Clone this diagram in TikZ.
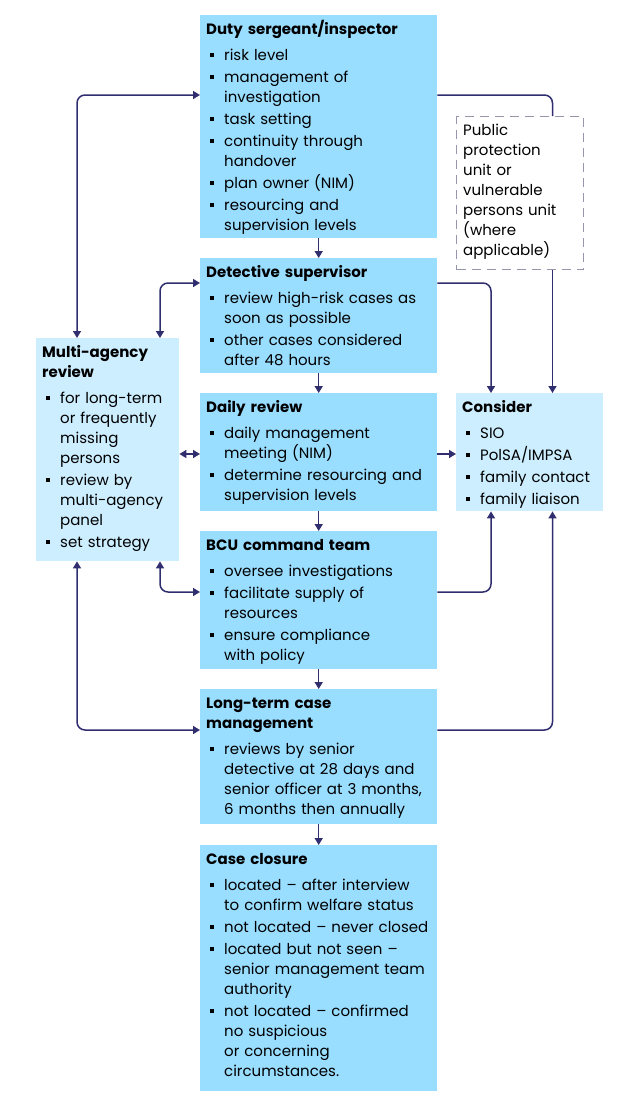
\documentclass[tikz,border=0pt]{standalone}
\usepackage{fontspec}
\setmainfont{Poppins}
\usetikzlibrary{arrows.meta,calc}
\definecolor{navy}{RGB}{48,46,110}
\definecolor{boxblue}{RGB}{153,221,255}
\definecolor{sideblue}{RGB}{204,238,255}
\definecolor{dashgray}{RGB}{150,150,170}
\newcommand\ttl[1]{{\noindent\bfseries\let\\\newline #1\par}\vspace{6pt}}
\newcommand\bi[1]{\hangindent=18pt\hangafter=1\noindent\makebox[18pt][l]{\hspace{3.5pt}\rule[2.8pt]{4pt}{4pt}}{\let\\\newline #1}\par\vspace{2pt}}
\tikzset{
  mainbox/.style={draw=none,fill=boxblue,rectangle,anchor=north west,inner sep=0pt},
  sidebox/.style={draw=none,fill=sideblue,rectangle,anchor=north west,inner sep=0pt},
  dashbox/.style={draw=dashgray,line width=1.2pt,dash pattern=on 9pt off 6pt,rectangle,anchor=north west,inner sep=0pt},
  txt/.style={anchor=base west,inner sep=0pt,text width=230pt,align=left,
    font=\fontsize{15}{20}\selectfont},
  conn/.style={draw=navy,line width=1.5pt,rounded corners=8pt},
  arr/.style={conn,-{Triangle[length=7pt,width=8pt]}},
  arrb/.style={conn,{Triangle[length=7pt,width=8pt]}-{Triangle[length=7pt,width=8pt]}},
}
\begin{document}
\begin{tikzpicture}[x=1pt,y=-1pt]
\useasboundingbox (0,0) rectangle (620,1106);
% boxes
\node[mainbox,minimum width=237pt,minimum height=223pt] (duty) at (200,15) {};
\node[mainbox,minimum width=237pt,minimum height=115pt] (det) at (200,258) {};
\node[mainbox,minimum width=237pt,minimum height=118pt] (daily) at (200,393) {};
\node[mainbox,minimum width=237pt,minimum height=138pt] (bcu) at (200,531) {};
\node[mainbox,minimum width=237pt,minimum height=135pt] (lt) at (200,689) {};
\node[mainbox,minimum width=237pt,minimum height=246pt] (cc) at (200,845) {};
\node[sidebox,minimum width=143pt,minimum height=223pt] (multi) at (36,338) {};
\node[sidebox,minimum width=147pt,minimum height=118pt] (consider) at (456,393) {};
\node[dashbox,minimum width=127pt,minimum height=153pt] (ppu) at (456,116) {};
% texts
\node[txt] (dutyT) at ([shift={(6pt,-19pt)}]duty.north west) {\ttl{Duty sergeant/inspector}%
\bi{risk level}\bi{management of\\investigation}\bi{task setting}\bi{continuity through\\handover}%
\bi{plan owner (NIM)}\bi{resourcing and\\supervision levels}};
\node[txt] (detT) at ([shift={(6pt,-19pt)}]det.north west) {\ttl{Detective supervisor}%
\bi{review high-risk cases as\\soon as possible}\bi{other cases considered\\after 48 hours}};
\node[txt] (dailyT) at ([shift={(6pt,-19pt)}]daily.north west) {\ttl{Daily review}%
\bi{daily management\\meeting (NIM)}\bi{determine resourcing and\\supervision levels}};
\node[txt] (bcuT) at ([shift={(6pt,-19pt)}]bcu.north west) {\ttl{BCU command team}%
\bi{oversee investigations}\bi{facilitate supply of\\resources}\bi{ensure compliance\\with policy}};
\node[txt] (ltT) at ([shift={(6pt,-19pt)}]lt.north west) {\ttl{Long-term case\\management}%
\bi{reviews by senior\\detective at 28 days and\\senior officer at 3 months,\\6 months then annually}};
\node[txt] (ccT) at ([shift={(6pt,-19pt)}]cc.north west) {\ttl{Case closure}%
\bi{located -- after interview\\to confirm welfare status}\bi{not located -- never closed}%
\bi{located but not seen --\\senior management team\\authority}%
\bi{not located -- confirmed\\no suspicious\\or concerning\\circumstances.}};
\node[txt] (multiT) at ([shift={(6pt,-19pt)}]multi.north west) {\ttl{Multi-agency\\review}%
\bi{for long-term\\or frequently\\missing\\persons}\bi{review by\\multi-agency\\panel}\bi{set strategy}};
\node[txt] (considerT) at ([shift={(6pt,-19pt)}]consider.north west) {\ttl{Consider}%
\bi{SIO}\bi{PolSA/IMPSA}\bi{family contact}\bi{family liaison}};
\node[txt] (ppuT) at ([shift={(7pt,-19pt)}]ppu.north west) {\noindent Public\\protection\\unit or\\vulnerable\\persons unit\\(where\\applicable)};
% connectors: main chain
\draw[arr] (duty.south) -- (det.north);
\draw[arr] (det.south) -- (daily.north);
\draw[arr] (daily.south) -- (bcu.north);
\draw[arr] (bcu.south) -- (lt.north);
\draw[arr] (lt.south) -- (cc.north);
% left side
\draw[arrb] ([xshift=41pt]multi.north west) |- ([yshift=-80pt]duty.north west);
\draw[arrb] ([xshift=124pt]multi.north west) |- ([yshift=-25pt]det.north west);
\coordinate (dA) at ([yshift=-61pt]daily.north west);
\draw[arrb] (multi.east |- dA) -- (dA);
\draw[arrb] ([xshift=124pt]multi.south west) |- ([yshift=-61pt]bcu.north west);
\draw[arrb] ([xshift=41pt]multi.south west) |- ([yshift=-41pt]lt.north west);
% right side
\draw[arr] (daily.east |- dA) -- (consider.west |- dA);
\draw[conn] ([yshift=-80pt]duty.north east) -| ([xshift=96.5pt]ppu.north west);
\draw[arr] ([xshift=96.5pt]ppu.south west) -- ([xshift=96.5pt]consider.north west);
\draw[arr] ([yshift=-25pt]det.north east) -| ([xshift=35pt]consider.north west);
\draw[arr] ([yshift=-61pt]bcu.north east) -| ([xshift=35pt]consider.south west);
\draw[arr] ([yshift=-41pt]lt.north east) -| ([xshift=96.5pt]consider.south west);
\end{tikzpicture}
\end{document}
